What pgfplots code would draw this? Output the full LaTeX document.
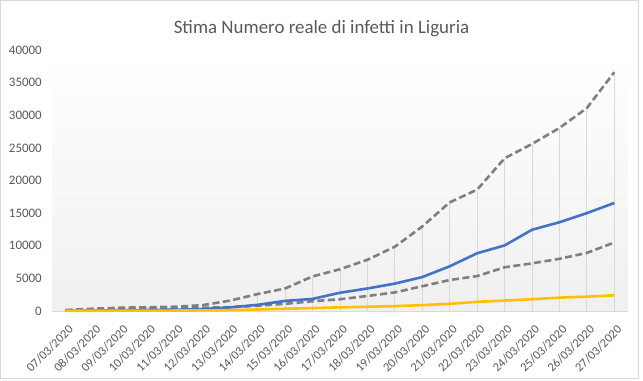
\documentclass[border=0pt]{standalone}
\usepackage{fontspec}
\setmainfont{Carlito}
\usepackage{pgfplots}
\usepackage{pgfplotstable}
\pgfplotsset{compat=1.18}
\definecolor{txtgray}{HTML}{595959}
\definecolor{gridgray}{HTML}{D9D9D9}
\definecolor{xlblue}{HTML}{4472C4}
\definecolor{xlyellow}{HTML}{FFC000}
\definecolor{xlgray}{HTML}{7F7F7F}
\pgfplotstableread{
idx up mid low yel
0 150 50 80 30
1 350 80 200 40
2 500 120 300 50
3 580 150 380 60
4 650 200 430 70
5 900 300 500 90
6 1600 550 600 130
7 2600 950 800 230
8 3450 1550 1100 340
9 5300 1850 1500 450
10 6400 2800 1800 560
11 7850 3450 2300 650
12 9850 4200 2850 750
13 12950 5200 3800 900
14 16650 6850 4750 1100
15 18600 8850 5350 1400
16 23400 10050 6700 1600
17 25600 12450 7300 1800
18 28050 13600 8000 2050
19 31100 15000 8900 2200
20 36600 16550 10500 2400
}\datatable
\begin{document}
\begin{tikzpicture}
\useasboundingbox (0,0) rectangle (643bp,381bp);
\draw[gridgray, line width=1bp] (0.5bp,2.5bp) rectangle (638.5bp,380.5bp);
\node[text=txtgray, font=\fontsize{19}{22}\selectfont] at (321.5bp,352bp) {Stima Numero reale di infetti in Liguria};
\begin{axis}[
  at={(52bp,70bp)}, anchor=south west,
  scale only axis, width=576bp, height=261bp,
  xmin=-0.5, xmax=20.5, ymin=0, ymax=40000,
  axis background/.style={top color=white, bottom color=black!6},
  separate axis lines,
  axis x line*=bottom, axis y line*=left,
  x axis line style={draw=gridgray, line width=1bp, -},
  y axis line style={draw=none},
  tick style={draw=none},
  xtick={0,...,20},
  xticklabels={07/03/2020,08/03/2020,09/03/2020,10/03/2020,11/03/2020,12/03/2020,13/03/2020,14/03/2020,15/03/2020,16/03/2020,17/03/2020,18/03/2020,19/03/2020,20/03/2020,21/03/2020,22/03/2020,23/03/2020,24/03/2020,25/03/2020,26/03/2020,27/03/2020},
  xticklabel style={xshift=2bp, yshift=-13bp, rotate=45, anchor=north east, inner sep=0pt, text=txtgray, font=\fontsize{12.5}{14}\selectfont},
  ytick={0,5000,...,40000},
  yticklabel style={anchor=east, inner sep=0pt, xshift=-10bp, text=txtgray, font=\fontsize{13}{15}\selectfont},
  /pgf/number format/assume math mode=true,
  scaled y ticks=false,
  yticklabel={\pgfmathprintnumber[fixed, 1000 sep={}]{\tick}},
  clip=false,
]
\addplot[ycomb, draw=gridgray, line width=0.9bp, mark=none] table[x=idx, y=up] {\datatable};
\addplot[xlgray, line width=2.6bp, dash pattern=on 7bp off 3.5bp, mark=none] table[x=idx, y=up] {\datatable};
\addplot[xlgray, line width=2.6bp, dash pattern=on 7bp off 3.5bp, mark=none] table[x=idx, y=low] {\datatable};
\addplot[xlblue, line width=2.6bp, mark=none, line join=round] table[x=idx, y=mid] {\datatable};
\addplot[xlyellow, line width=2.6bp, mark=none, line join=round] table[x=idx, y=yel] {\datatable};
\end{axis}
\end{tikzpicture}
\end{document}
